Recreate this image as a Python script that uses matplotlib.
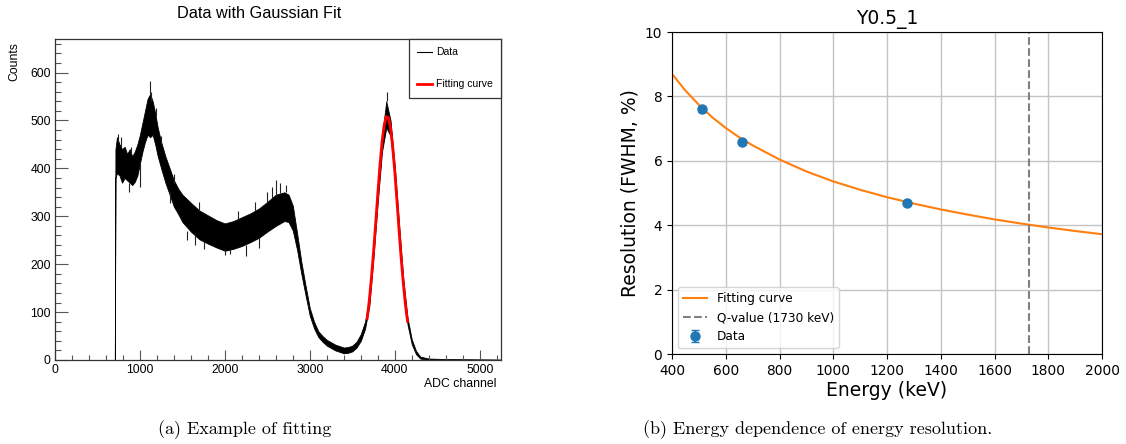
import matplotlib
matplotlib.use("Agg")
import matplotlib.pyplot as plt
from matplotlib.lines import Line2D
from matplotlib.ticker import MultipleLocator

# ---- (a) histogram (low/high counts) ----
adc_ch = [0, 700, 705, 712, 730, 760, 790, 820, 850, 880, 910, 940, 970, 1000,
          1030, 1060, 1090, 1120, 1150, 1180, 1210, 1250, 1300, 1350, 1400, 1450,
          1500, 1600, 1700, 1800, 1900, 2000, 2100, 2200, 2300, 2400, 2500, 2600,
          2700, 2750, 2800, 2850, 2900, 2950, 3000, 3050, 3100, 3150, 3200, 3300,
          3400, 3450, 3500, 3550, 3600, 3650, 3700, 3750, 3800, 3850, 3900, 3950,
          4000, 4050, 4100, 4150, 4200, 4250, 4300, 4400, 4600, 5250]
counts_low = [0, 0, 0, 380, 390, 385, 370, 380, 375, 370, 365, 372, 385, 410,
              435, 455, 470, 465, 470, 450, 425, 400, 370, 345, 320, 305,
              288, 268, 252, 243, 235, 228, 232, 238, 246, 255, 268, 280,
              290, 288, 270, 230, 180, 135, 92, 66, 48, 38, 30, 20,
              14, 15, 18, 26, 40, 65, 112, 215, 330, 435, 485, 468,
              378, 258, 152, 74, 33, 12, 3, 0, 0, 0]
counts_high = [0, 0, 0, 440, 465, 450, 440, 445, 430, 440, 425, 435, 450, 470,
               495, 520, 545, 555, 540, 515, 485, 455, 425, 400, 375, 358,
               345, 328, 312, 302, 292, 285, 290, 298, 306, 316, 330, 345,
               350, 345, 322, 265, 205, 155, 108, 80, 60, 50, 42, 32,
               26, 27, 30, 38, 54, 80, 128, 235, 355, 468, 540, 500,
               405, 285, 170, 88, 43, 19, 7, 3, 2, 1]

# single spikes sticking out of the band
spike_ch = [745, 780, 870, 900, 1005, 1120, 1135, 1190, 1250, 1350, 1400, 1560,
            1650, 1700, 1750, 2000, 2060, 2150, 2250, 2350, 2400, 2500, 2560,
            2600, 2650, 2720, 3905]
spike_from = [455, 445, 370, 430, 410, 555, 540, 510, 450, 350, 370, 270,
              262, 310, 248, 230, 231, 292, 240, 312, 256, 328, 338,
              345, 348, 350, 540]
spike_to = [472, 466, 350, 445, 362, 582, 560, 525, 468, 328, 388, 250,
            240, 330, 232, 220, 222, 312, 218, 330, 234, 350, 362,
            375, 370, 365, 560]

# Gaussian fit curve (red)
fit_ch = [3675, 3700, 3725, 3750, 3775, 3800, 3825, 3850, 3875, 3900, 3925, 3950,
          3975, 4000, 4025, 4050, 4075, 4100, 4125, 4150]
fit_counts = [87, 124, 171, 225, 285, 346, 405, 455, 490, 508, 506, 485,
              445, 394, 334, 272, 213, 161, 116, 81]

# ---- (b) energy resolution ----
fit_energy = [400, 450, 500, 550, 600, 650, 700, 800, 900, 1000, 1100, 1200, 1300,
              1400, 1500, 1600, 1700, 1800, 1900, 2000]
fit_res = [8.70, 8.18, 7.74, 7.35, 7.02, 6.73, 6.48, 6.04, 5.67, 5.36, 5.10, 4.87,
           4.67, 4.49, 4.33, 4.18, 4.05, 3.93, 3.82, 3.72]
data_energy = [511, 662, 1275]
data_res = [7.6, 6.58, 4.7]
data_err = [0.08, 0.07, 0.06]
q_value = 1730

fig = plt.figure(figsize=(11.26, 4.44), dpi=100)

# ---------------- left: ROOT style histogram ----------------
root_font = "Liberation Sans"
ax1 = fig.add_axes([0.0488, 0.1892, 0.3961, 0.723])
ax1.fill_between(adc_ch, counts_low, counts_high, color="black", lw=0.6, edgecolor="black")
ax1.vlines(spike_ch, spike_from, spike_to, color="#222222", lw=0.8)
ax1.plot(fit_ch, fit_counts, color="red", lw=2)
ax1.set_xlim(0, 5250)
ax1.set_ylim(0, 670)
ax1.xaxis.set_major_locator(MultipleLocator(1000))
ax1.xaxis.set_minor_locator(MultipleLocator(200))
ax1.yaxis.set_major_locator(MultipleLocator(100))
ax1.yaxis.set_minor_locator(MultipleLocator(20))
ax1.tick_params(axis="y", which="major", direction="in", length=9.4, width=0.8, color="#555555")
ax1.tick_params(axis="y", which="minor", direction="in", length=4.5, width=0.8, color="#555555")
ax1.tick_params(axis="x", which="major", direction="in", length=7, width=0.8, color="#555555")
ax1.tick_params(axis="x", which="minor", direction="in", length=3.6, width=0.8, color="#555555")
ax1.tick_params(labelsize=8.8, pad=3)
for lab in ax1.get_xticklabels() + ax1.get_yticklabels():
    lab.set_fontfamily(root_font)
for sp in ax1.spines.values():
    sp.set_color("#333333")
    sp.set_linewidth(0.9)

handles = [Line2D([], [], color="black", lw=0.8), Line2D([], [], color="red", lw=2)]
leg1 = ax1.legend(handles, ["Data", "Fitting curve"], loc="upper right",
                  bbox_to_anchor=(1.0, 1.0), borderaxespad=0, fancybox=False,
                  edgecolor="#333333", framealpha=1, handlelength=1.4,
                  handletextpad=0.4, labelspacing=2.1, borderpad=0.8,
                  prop={"family": root_font, "size": 7.5})
leg1.get_frame().set_linewidth(0.9)

fig.text(259 / 1126, 1 - 14 / 444, "Data with Gaussian Fit", ha="center", va="center",
         fontsize=11.7, family=root_font)
fig.text(14 / 1126, 1 - 42 / 444, "Counts", ha="center", va="top", rotation=90,
         fontsize=8.8, family=root_font)
fig.text(497 / 1126, 1 - 384 / 444, "ADC channel", ha="right", va="center",
         fontsize=8.8, family=root_font)

# ---------------- right: matplotlib resolution plot ----------------
ax2 = fig.add_axes([0.5968, 0.2027, 0.3819, 0.7252])
ax2.plot(fit_energy, fit_res, color="tab:orange", lw=1.5, label="Fitting curve")
ax2.axvline(q_value, color="gray", ls="--", lw=1.5, label="Q-value (1730 keV)")
ax2.errorbar(data_energy, data_res, yerr=data_err, fmt="o", color="tab:blue",
             ms=6.5, capsize=3, label="Data")
ax2.set_xlim(400, 2000)
ax2.set_ylim(0, 10)
ax2.set_xticks(range(400, 2001, 200))
ax2.set_yticks(range(0, 11, 2))
ax2.grid(True, color="#c4c4c4", lw=1)
ax2.tick_params(labelsize=9.9)
ax2.set_xlabel("Energy (keV)", fontsize=13.5, labelpad=2)
ax2.set_ylabel("Resolution (FWHM, %)", fontsize=13.5)
ax2.set_title("Y0.5_1", fontsize=13.5)
ax2.legend(loc="lower left", fontsize=8.7)

# ---------------- captions ----------------
fig.text(245 / 1126, 1 - 430 / 444, "(a) Example of fitting", ha="center", va="center",
         fontsize=13, family="cmr10")
fig.text(818 / 1126, 1 - 430 / 444, "(b) Energy dependence of energy resolution.",
         ha="center", va="center", fontsize=13, family="cmr10")

fig.savefig("out.png", dpi=100)
